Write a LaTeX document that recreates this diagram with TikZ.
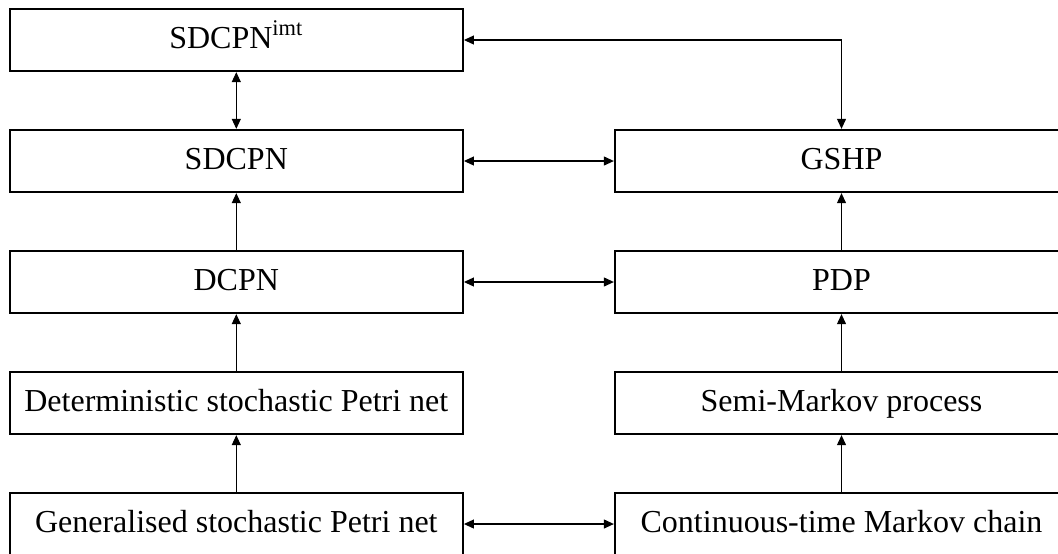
\documentclass[tikz,border=0pt]{standalone}
\usepackage{fontspec}
\setmainfont{Liberation Serif}
\usetikzlibrary{arrows.meta}
\begin{document}
\begin{tikzpicture}[x=0.5pt,y=-0.5pt,
  model/.style={draw, line width=1.15pt, minimum width=226.5pt, minimum height=31pt,
    inner sep=0pt, text height=10.6pt, text depth=2.6pt,
    font=\fontsize{16}{19}\selectfont},
  link/.style={line width=0.55pt, {Triangle[length=5pt,width=4.5pt]}-{Triangle[length=5pt,width=4.5pt]}},
  flow/.style={line width=0.55pt, -{Triangle[length=5pt,width=4.5pt]}}]
\useasboundingbox (0,0) rectangle (1058,553);

% left column: Petri net formalisms
\node[model] (imt)   at (236.3,40)  {SDCPN\textsuperscript{imt}};
\node[model] (sdcpn) at (236.3,161) {SDCPN};
\node[model] (dcpn)  at (236.3,282) {DCPN};
\node[model] (dspn)  at (236.3,403) {Deterministic stochastic Petri net};
\node[model] (gspn)  at (236.3,524) {Generalised stochastic Petri net};

% right column: stochastic processes
\node[model] (gshp)  at (841.5,161) {GSHP};
\node[model] (pdp)   at (841.5,282) {PDP};
\node[model] (smp)   at (841.5,403) {Semi-Markov process};
\node[model] (ctmc)  at (841.5,524) {Continuous-time Markov chain};

% generalisation steps
\draw[flow] (gspn) -- (dspn);
\draw[flow] (dspn) -- (dcpn);
\draw[flow] (dcpn) -- (sdcpn);
\draw[flow] (ctmc) -- (smp);
\draw[flow] (smp)  -- (pdp);
\draw[flow] (pdp)  -- (gshp);

% equivalences
\draw[link] (imt)   -- (sdcpn);
\draw[link] (sdcpn) -- (gshp);
\draw[link] (dcpn)  -- (pdp);
\draw[link] (gspn)  -- (ctmc);
\draw[link] (imt.east) -| (gshp.north);
\end{tikzpicture}
\end{document}
